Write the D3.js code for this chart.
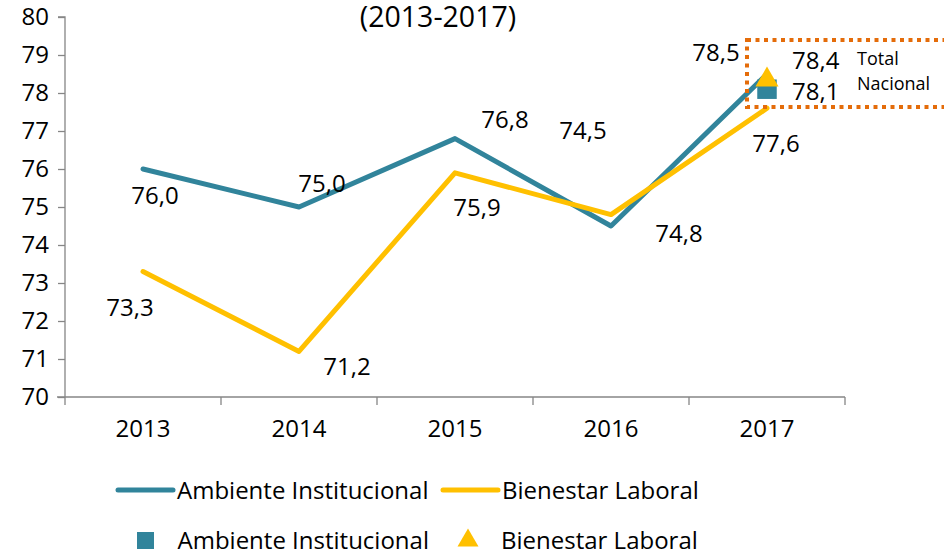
<!DOCTYPE html>
<html>
<head>
<meta charset="utf-8">
<script src="https://cdn.jsdelivr.net/npm/d3@7"></script>
<style>
  body { margin: 0; background: #fff; }
  text { font-family: "Open Sans", "Noto Sans", sans-serif; fill: #000; }
</style>
</head>
<body>
<div id="chart"></div>
<script>
// data
const years = ["2013", "2014", "2015", "2016", "2017"];
const ambiente = [76.0, 75.0, 76.8, 74.5, 78.5];
const bienestar = [73.3, 71.2, 75.9, 74.8, 77.6];
const nacionalAmbiente = 78.1;
const nacionalBienestar = 78.4;
const yTicks = [70, 71, 72, 73, 74, 75, 76, 77, 78, 79, 80];

const TEAL = "#31849B";
const GOLD = "#FFC000";
const ORANGE = "#E46C0A";
const FONT = "\"Open Sans\", sans-serif";
const FS = "24px";

const WIDTH = 944, HEIGHT = 553;
const MARGIN = { LEFT: 65, TOP: 17, RIGHT: 99, BOTTOM: 156 };

const svg = d3.select("#chart").append("svg")
  .attr("width", WIDTH)
  .attr("height", HEIGHT);

const x = d3.scaleBand()
  .domain(years)
  .range([MARGIN.LEFT, WIDTH - MARGIN.RIGHT]);
const y = d3.scaleLinear()
  .domain([70, 80])
  .range([HEIGHT - MARGIN.BOTTOM, MARGIN.TOP]);
const cx = d => x(d) + x.bandwidth() / 2;
const fmt = v => d3.format(".1f")(v).replace(".", ",");

// title (partly cut at top)
svg.append("text")
  .attr("x", 438).attr("y", 27)
  .attr("text-anchor", "middle")
  .attr("font-size", "28.5px")
  .text("(2013-2017)");

// axes
const yAxis = svg.append("g")
  .attr("transform", `translate(${MARGIN.LEFT},0)`)
  .call(d3.axisLeft(y).tickValues(yTicks).tickSize(7).tickPadding(9).tickFormat(d3.format("d")));
const xAxis = svg.append("g")
  .attr("transform", `translate(0,${y(70)})`)
  .call(d3.axisBottom(x).tickSize(0).tickPadding(23));

[yAxis, xAxis].forEach(g => {
  g.select(".domain").attr("stroke", "#868686").attr("stroke-width", 1.3);
  g.selectAll(".tick line").attr("stroke", "#868686").attr("stroke-width", 1.3);
  g.selectAll(".tick text").attr("font-size", FS).attr("font-family", FONT).attr("fill", "#000");
});
yAxis.select(".domain").attr("d", `M-7,${y(80)}H0V${y(70)}`);

// x tick marks at band boundaries
xAxis.selectAll(".bound")
  .data(years.concat(["end"]))
  .enter().append("line")
  .attr("x1", (d, i) => MARGIN.LEFT + i * x.bandwidth())
  .attr("x2", (d, i) => MARGIN.LEFT + i * x.bandwidth())
  .attr("y1", 0).attr("y2", 8)
  .attr("stroke", "#868686").attr("stroke-width", 1.3);
xAxis.select(".domain").attr("d", `M${MARGIN.LEFT - 8},0H${WIDTH - MARGIN.RIGHT}`);

// lines
const line = d3.line()
  .x((d, i) => cx(years[i]))
  .y(d => y(d));

svg.append("path")
  .attr("d", line(ambiente))
  .attr("fill", "none")
  .attr("stroke", TEAL)
  .attr("stroke-width", 5)
  .attr("stroke-linejoin", "round")
  .attr("stroke-linecap", "round");

svg.append("path")
  .attr("d", line(bienestar))
  .attr("fill", "none")
  .attr("stroke", GOLD)
  .attr("stroke-width", 5)
  .attr("stroke-linejoin", "round")
  .attr("stroke-linecap", "round");

// value labels (offsets from each point)
const ambOffsets = [[12, 35], [23, -15], [50, -11], [-28, -87], [-51, -13]];
const bieOffsets = [[-13, 44], [48, 24], [22, 43], [68, 27], [9, 44]];

svg.selectAll(".lblA")
  .data(ambiente)
  .enter().append("text")
  .attr("x", (d, i) => cx(years[i]) + ambOffsets[i][0])
  .attr("y", (d, i) => y(d) + ambOffsets[i][1])
  .attr("text-anchor", "middle")
  .attr("font-size", FS)
  .text(fmt);

svg.selectAll(".lblB")
  .data(bienestar)
  .enter().append("text")
  .attr("x", (d, i) => cx(years[i]) + bieOffsets[i][0])
  .attr("y", (d, i) => y(d) + bieOffsets[i][1])
  .attr("text-anchor", "middle")
  .attr("font-size", FS)
  .text(fmt);

// Total Nacional box
const last = cx("2017");
svg.append("rect")
  .attr("x", last - 20).attr("y", y(80) + 23)
  .attr("width", 240).attr("height", 67)
  .attr("fill", "none")
  .attr("stroke", ORANGE)
  .attr("stroke-width", 4)
  .attr("stroke-dasharray", "4,4.5");

svg.append("text")
  .attr("x", 857).attr("y", 65)
  .attr("font-size", "18px")
  .text("Total");
svg.append("text")
  .attr("x", 857).attr("y", 90)
  .attr("font-size", "18px")
  .text("Nacional");

// national markers
svg.append("path")
  .attr("d", d3.symbol().type(d3.symbolSquare).size(380)())
  .attr("transform", `translate(${last},${y(nacionalAmbiente)})`)
  .attr("fill", TEAL);
svg.append("path")
  .attr("d", d3.symbol().type(d3.symbolTriangle).size(230)())
  .attr("transform", `translate(${last},${y(nacionalBienestar) + 2})`)
  .attr("fill", GOLD);

svg.append("text")
  .attr("x", last + 25).attr("y", y(nacionalBienestar) - 9)
  .attr("font-size", FS)
  .text(fmt(nacionalBienestar));
svg.append("text")
  .attr("x", last + 25).attr("y", y(nacionalAmbiente) + 11)
  .attr("font-size", FS)
  .text(fmt(nacionalAmbiente));

// legend
const legendLines = [
  { name: "Ambiente Institucional", color: TEAL, x: 118 },
  { name: "Bienestar Laboral", color: GOLD, x: 443 }
];
const leg1 = svg.selectAll(".leg1")
  .data(legendLines)
  .enter().append("g")
  .attr("transform", d => `translate(${d.x},490)`);
leg1.append("line")
  .attr("x1", 0).attr("x2", 55)
  .attr("stroke", d => d.color)
  .attr("stroke-width", 5)
  .attr("stroke-linecap", "round");
leg1.append("text")
  .attr("x", 59).attr("y", 9)
  .attr("font-size", FS)
  .text(d => d.name);

const legendMarks = [
  { name: "Ambiente Institucional", color: TEAL, sym: d3.symbolSquare, size: 289, x: 145.5 },
  { name: "Bienestar Laboral", color: GOLD, sym: d3.symbolTriangle, size: 190, x: 468 }
];
const leg2 = svg.selectAll(".leg2")
  .data(legendMarks)
  .enter().append("g")
  .attr("transform", d => `translate(${d.x},540.5)`);
leg2.append("path")
  .attr("d", d => d3.symbol().type(d.sym).size(d.size)())
  .attr("fill", d => d.color);
leg2.append("text")
  .attr("x", d => d.x < 300 ? 32 : 33).attr("y", 8.5)
  .attr("font-size", FS)
  .text(d => d.name);
</script>
</body>
</html>
